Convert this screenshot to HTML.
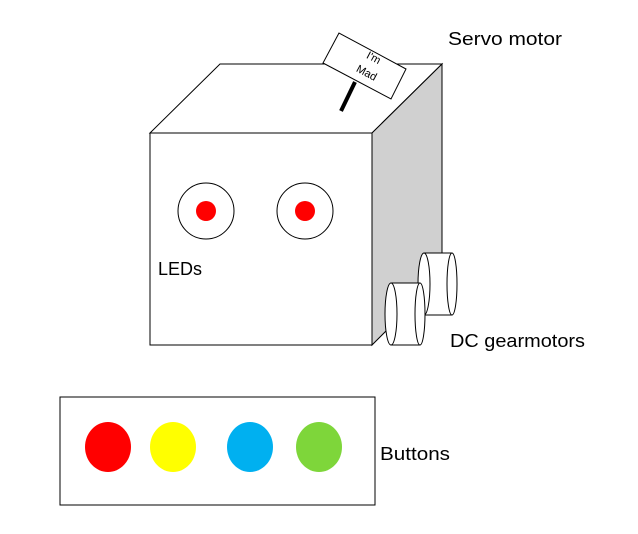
<!DOCTYPE html>
<html><head><meta charset="utf-8"><style>
html,body{margin:0;padding:0;background:#fff}
svg{display:block}
text{font-family:"Liberation Sans",sans-serif;fill:#000}
</style></head><body>
<svg width="638" height="534" viewBox="0 0 638 534">
<g stroke="#000" stroke-width="1">
<polygon points="150,133 220,64 442,64 372,133" fill="#fff"/>
<polygon points="372,133 442,64 442,275 372,345" fill="#d0d0d0"/>
<rect x="150" y="133" width="222" height="212" fill="#fff"/>
</g>
<g>
<line x1="355" y1="82" x2="341" y2="111" stroke="#000" stroke-width="4"/>
<polygon points="339,33 323,63 391,99 406,69" fill="#fff" stroke="#000"/>
<text x="372" y="61" font-size="11" text-anchor="middle" transform="rotate(28 372 61)">I'm</text>
<text x="365" y="76" font-size="11" text-anchor="middle" transform="rotate(28 365 76)">Mad</text>
</g>
<g>
<circle cx="206" cy="211" r="28" fill="#fff" stroke="#000"/>
<circle cx="206" cy="211" r="10" fill="#ff0000"/>
</g>
<g>
<circle cx="305" cy="211" r="28" fill="#fff" stroke="#000"/>
<circle cx="305" cy="211" r="10" fill="#ff0000"/>
</g>
<g stroke="#000" fill="#fff">
<path d="M424,253 L452,253 L452,315 L424,315 Z" stroke="none"/>
<line x1="424" y1="253" x2="452" y2="253"/>
<line x1="424" y1="315" x2="452" y2="315"/>
<ellipse cx="424" cy="284" rx="6" ry="31"/>
<ellipse cx="452" cy="284" rx="5" ry="31"/>
</g>
<g stroke="#000" fill="#fff">
<path d="M391,283 L420,283 L420,345 L391,345 Z" stroke="none"/>
<line x1="391" y1="283" x2="420" y2="283"/>
<line x1="391" y1="345" x2="420" y2="345"/>
<ellipse cx="391" cy="314" rx="6" ry="31"/>
<ellipse cx="420" cy="314" rx="5" ry="31"/>
</g>
<text x="448" y="45" font-size="18" textLength="114" lengthAdjust="spacingAndGlyphs">Servo motor</text>
<text x="158" y="275" font-size="18">LEDs</text>
<text x="450" y="347" font-size="18" textLength="135" lengthAdjust="spacingAndGlyphs">DC gearmotors</text>
<rect x="60" y="397" width="315" height="108" fill="#fff" stroke="#000"/>
<ellipse cx="108" cy="447" rx="23" ry="25" fill="#ff0000"/>
<ellipse cx="173" cy="447" rx="23" ry="25" fill="#ffff00"/>
<ellipse cx="250" cy="447" rx="23" ry="25" fill="#00b0f0"/>
<ellipse cx="319" cy="447" rx="23" ry="25" fill="#7ed63a"/>
<text x="380" y="460" font-size="18" textLength="70" lengthAdjust="spacingAndGlyphs">Buttons</text>
</svg>
</body></html>
